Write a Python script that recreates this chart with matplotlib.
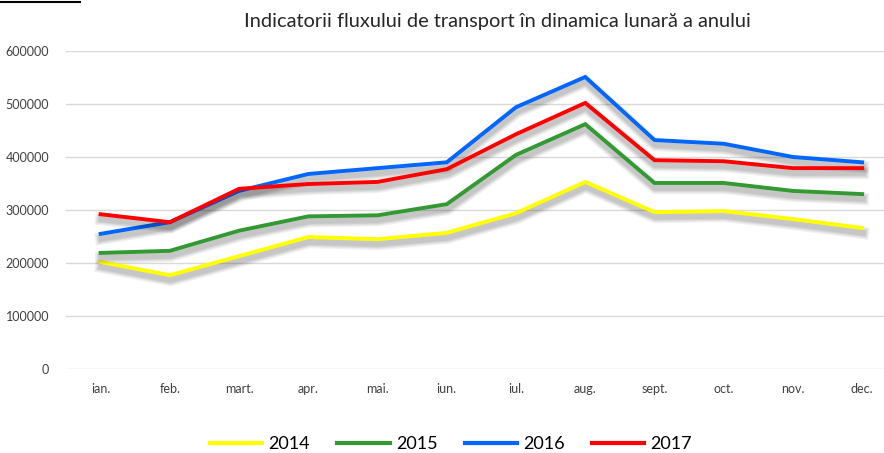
import numpy as np
import matplotlib
matplotlib.use("Agg")
import matplotlib.pyplot as plt
from matplotlib import patheffects as pe
from matplotlib.lines import Line2D

plt.rcParams['font.family'] = ['Lato', 'DejaVu Sans']

MONTHS = ['ian.', 'feb.', 'mart.', 'apr.', 'mai.', 'iun.',
          'iul.', 'aug.', 'sept.', 'oct.', 'nov.', 'dec.']
Y2014 = [202000, 177000, 213000, 249000, 245000, 257000,
         294000, 353000, 296000, 298000, 283000, 266000]
Y2015 = [219000, 223000, 261000, 288000, 290000, 311000,
         404000, 462000, 351000, 351000, 336000, 330000]
Y2016 = [255000, 277000, 336000, 368000, 379000, 390000,
         494000, 551000, 432000, 425000, 400000, 390000]
Y2017 = [292000, 277000, 340000, 349000, 353000, 377000,
         443000, 502000, 394000, 392000, 379000, 379000]

SERIES = [('2014', Y2014, '#ffff00'),
          ('2015', Y2015, '#339933'),
          ('2016', Y2016, '#0066ff'),
          ('2017', Y2017, '#ff0000')]

W, H = 884, 453
fig = plt.figure(figsize=(W / 100, H / 100), dpi=100)
ax = fig.add_axes([66 / W, 1 - 369 / H, 1 - 66 / W, (369 - 51) / H])

# soft grey shadow under each line (stacked strokes to fake a blur)
shadow = [pe.SimpleLineShadow(offset=(0.5, -3.5), shadow_color='black', alpha=0.06, linewidth=lw)
          for lw in (9, 7, 5.5, 4)]

x = np.arange(len(MONTHS))
for label, vals, color in SERIES:
    ax.plot(x, vals, color=color, lw=2.8, solid_joinstyle='miter',
            path_effects=shadow + [pe.Normal()], zorder=3)

ax.set_xlim(-0.5, (W - 101) / 69.2)
ax.set_ylim(0, 600000)
ax.set_yticks(np.arange(0, 600001, 100000))
ax.set_yticklabels([str(v) for v in range(0, 600001, 100000)])
ax.set_xticks(x)
ax.set_xticklabels(MONTHS)
ax.tick_params(length=0, labelsize=9, colors='#404040', pad=10)
ax.tick_params(axis='y', pad=12)
ax.grid(axis='y', color='#d9d9d9', lw=1)
ax.set_axisbelow(True)
for s in ax.spines.values():
    s.set_visible(False)

fig.text(497 / W, 1 - 22 / H, 'Indicatorii fluxului de transport în dinamica lunară a anului',
         ha='center', va='center', fontsize=14.4, color='#262626')

handles = [Line2D([], [], color=c, lw=3) for _, _, c in SERIES]
fig.legend(handles, [s[0] for s in SERIES], loc='center', bbox_to_anchor=(451 / W, 1 - 444 / H),
           ncol=4, frameon=False, fontsize=13, handlelength=2.9, columnspacing=1.5,
           handletextpad=0.35)

fig.add_artist(Line2D([0, 80 / W], [1 - 2 / H, 1 - 2 / H], color='black', lw=1.5))

fig.savefig('out.png', dpi=100)
